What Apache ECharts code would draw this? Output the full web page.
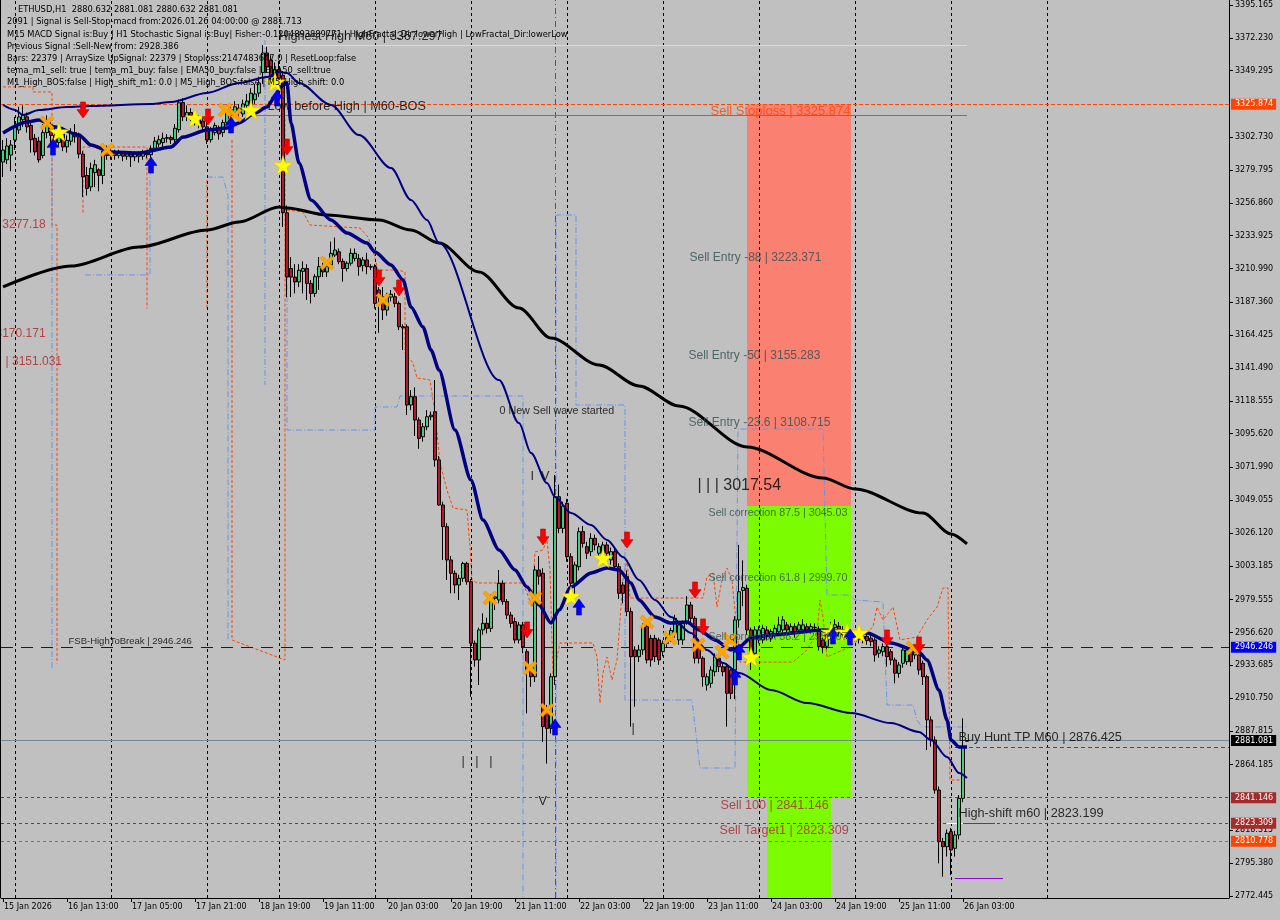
<!DOCTYPE html>
<html><head><meta charset="utf-8">
<script src="https://cdn.jsdelivr.net/npm/echarts@6/dist/echarts.min.js"></script>
<style>html,body{margin:0;padding:0;background:#c0c0c0}#c{width:1280px;height:920px}</style>
</head><body><div id="c"></div>
<script>
// ---------------- DATA ----------------
const xTickLabels = ['15 Jan 2026','16 Jan 13:00','17 Jan 05:00','17 Jan 21:00','18 Jan 19:00','19 Jan 11:00','20 Jan 03:00','20 Jan 19:00','21 Jan 11:00','22 Jan 03:00','22 Jan 19:00','23 Jan 11:00','24 Jan 03:00','24 Jan 19:00','25 Jan 11:00','26 Jan 03:00'];
const dayStartIdx = [3,27,51,69,93,117,141,165,189,213,237,261];
const yTicks = [3395.165,3372.230,3349.295,3302.730,3279.795,3256.860,3233.925,3210.990,3187.360,3164.425,3141.490,3118.555,3095.620,3071.990,3049.055,3026.120,3003.185,2979.555,2956.620,2933.685,2910.750,2887.815,2864.185,2818.315,2795.380,2772.445];
// [open, close, low, high]
const ohlc = [
[3285.4,3293.8,3274.9,3300.8],[3287,3296.6,3284,3302],[3290.3,3297.3,3279,3300.8],[3300.8,3309.9,3293.8,3316.9],[3307.8,3316.9,3305,3324],
[3315,3318.5,3310,3325],[3317,3310,3306,3320],[3311,3301,3292,3314],[3302,3292.5,3290,3305],[3300,3287,3285,3303],
[3290,3306,3288,3312],[3306,3311,3302,3318],[3311,3304,3298,3315],[3304,3299,3294,3310],[3299,3306,3296,3310],
[3305,3296,3293,3310],[3296,3300.5,3292,3304],[3300,3306,3297,3309],[3306,3303,3299,3312],[3303,3291,3288,3306],
[3291,3275,3261,3293],[3276,3267,3262,3282],[3268,3281,3265,3285],[3278,3283.5,3268,3287],[3280,3276,3265,3281],
[3276,3293,3270,3298],[3293,3290,3287,3297],[3290,3292,3287,3295],[3292,3290,3287,3294],[3290,3291.5,3288,3294],
[3291.5,3289.5,3286,3293],[3289.5,3291,3287,3293],[3291,3289,3282,3293],[3289,3291,3286,3293],[3291,3289.5,3285,3293],
[3289.5,3291.5,3287,3294],[3291.5,3290.5,3288,3293],[3290.5,3295,3288,3297],[3295,3300,3293,3303],[3298,3301,3296,3304],
[3299,3302,3296,3306],[3302,3302.5,3299,3305],[3302.5,3301,3298,3304],[3301,3309,3299,3312],[3308,3326.8,3306,3329],
[3327,3317,3314,3330],[3317,3320,3314,3325],[3320,3318,3314,3323],[3318,3315,3311,3321],[3315,3312,3309,3318],
[3314,3310,3306,3316],[3310,3300.8,3298,3314],[3301,3308,3299,3310],[3306,3311,3304,3313],[3309,3305,3301,3311],
[3306,3313,3303,3315],[3313,3320,3311,3322],[3318,3322,3316,3325],[3320,3324,3317,3328],[3323,3320,3317,3326],
[3319,3326,3317,3329],[3325,3328,3322,3333],[3324,3333.5,3322,3337],[3329,3333,3326,3340],[3333.6,3340.6,3331,3345],
[3348,3361.6,3340,3367.2],[3361.6,3351.8,3348,3366],[3356.7,3344.9,3342,3360],[3343,3350,3340,3355],[3350,3344,3340,3356],
[3346,3250,3240,3349],[3250,3205,3191,3255],[3211,3205,3191,3219],[3205,3201.6,3193.6,3214],[3201.6,3209.8,3198,3214],
[3209,3211,3193.6,3216],[3211,3200.6,3189,3214],[3200.6,3193.6,3186.6,3203],[3193.6,3205.3,3191,3207],[3205.3,3212.3,3196,3219],
[3212,3208.6,3205,3215],[3208.6,3212.3,3205,3215],[3213.5,3221.6,3212,3229.8],[3220.4,3223.9,3219,3232.6],[3222.7,3215.8,3214,3225],
[3216,3211,3201.8,3218],[3211,3214.7,3209,3216],[3214.7,3221.6,3213,3225],[3218,3221.6,3216,3225],[3217.9,3212.3,3206,3221],
[3213,3217,3209,3219],[3217,3212.3,3207,3222],[3212.3,3212,3210,3214],[3212.3,3186.6,3183,3214],[3196,3191,3166,3198],
[3191.3,3182,3175,3198],[3182,3191.3,3178,3194],[3191,3193,3188,3196],[3191.3,3186.6,3184,3194],[3186.6,3170.3,3168,3188],
[3170.3,3169.5,3154,3172],[3170.3,3115.6,3108.6,3172],[3115.6,3121.4,3112,3126],[3121.4,3105.1,3094,3128],[3105.1,3092.3,3085,3107],
[3093.4,3100.4,3090,3103],[3100.4,3107.4,3098,3112],[3107.4,3108.5,3105,3111],[3110.9,3077.2,3072.5,3133.1],[3077.2,3045.7,3045,3080],
[3045.7,3030.6,3007.3,3048],[3030.6,3007.3,2993.3,3033],[3007.3,2998,2984,3010],[2998,2989.8,2984,3000],[2989.8,2994.5,2979.3,2997],
[2994.5,3004.9,2992,3006],[3004.9,2992.1,2990,3006],[2992.1,2949.1,2911.7,2994],[2949.1,2937.4,2932.7,2951],[2937.4,2958.4,2919.9,2960],
[2958.4,2963,2955,2970],[2963,2959.5,2956,2967],[2959.5,2980.5,2957,2983],[2980.5,2981.5,2972.3,2985],[2979.3,2991,2977,3000.3],
[2991,2978.2,2976,2993],[2978.2,2968.8,2966,2980],[2968.8,2963,2960,2971],[2964.2,2951.4,2949,2967],[2951.4,2961.9,2949,2964],
[2961.9,2946.7,2942.1,2964],[2943.2,2930.4,2900.1,2945],[2931,2925.7,2918.7,2933],[2925.7,3000.3,2922,3003],[3000.3,2996,2990,3010],
[2998,2890.8,2880,3001.5],[2903.6,2889.6,2865,2906],[2889.6,2925.7,2886,2928],[2925.7,3051.5,2920,3066.7],[3051.5,3029.4,3026,3060],
[3029.4,3045,3026,3048],[3046.9,3009.6,3006,3050],[3009.6,2991,2988,3012],[2991,3003.8,2978,3006],[3002.6,3027.1,3000,3030],
[3027.1,3018.9,3016,3031],[3016.6,3012,3008,3020],[3013.1,3022.4,3010,3026],[3022.4,3017.8,3014,3025],[3012,3016.6,3008,3019],
[3008.5,3017.8,3005,3020],[3017.8,3012,3008,3020],[3007.3,3013.1,3004,3016],[3013.1,3002.6,3000,3016],[3002.6,2984,2980,3005],
[2989.8,2984,2977,2992],[2995.6,2971.2,2968,3000],[2971.2,2939.7,2890.8,2974],[2944.4,2939.7,2904.7,2947],[2939.7,2944.4,2936,2948],
[2944.4,2960.7,2941,2963],[2960.7,2937.4,2935,2963],[2952.5,2937.4,2932.7,2955],[2952.5,2939.7,2936,2955],[2951.4,2937.4,2934,2953],
[2943.2,2949.1,2940,2951],[2949,2953,2946,2955],[2953,2958,2950,2960],[2956,2966.5,2953,2969],[2951.4,2961.9,2948,2964],
[2951.4,2963,2948,2965],[2964.2,2975.8,2962,2982],[2975.8,2966.5,2963,2978],[2966.5,2938.6,2935,2968],[2950.2,2938.6,2935,2952],
[2938.6,2925.7,2918.7,2940],[2919.9,2925.7,2916,2928],[2921.1,2930.4,2918,2933],[2929.2,2939.7,2926,2942],[2938.6,2932.7,2929,2941],
[2932.7,2929.2,2926,2935],[2932.7,2914.1,2890.8,2935],[2930.4,2914.1,2910,2932],[2930.4,2965.4,2910,2968],[2965.4,2985.1,2960,3017.8],
[2986,2988,2975,3007],[2987.5,2958.4,2955,2990],[2958.4,2940.9,2930.4,2960],[2942.1,2958.4,2940,2961],[2951.4,2958.4,2949,2961],
[2951.4,2959.5,2949,2962],[2958.4,2953.7,2951,2961],[2952.6,2957.2,2950,2959],[2954.9,2959.5,2953,2962],[2957.2,2961.9,2955,2967.6],
[2958.4,2965.4,2956,2968],[2961.9,2958.4,2956,2964],[2957.2,2960.7,2955,2963],[2960.7,2956,2953,2963],[2958.4,2961.9,2956,2964],
[2958.4,2961.9,2956,2966],[2960.7,2958.4,2956,2963],[2958.4,2960.7,2956,2963],[2960,2960.3,2957,2963],[2958.4,2946.7,2944,2961],
[2951.4,2946.7,2942.1,2953],[2947,2955,2945,2958],[2955,2960,2952,2964],[2960,2962,2956,2966],[2961,2958,2955,2964],
[2958,2955,2952,2961],[2955,2957,2952,2960],[2957,2953,2950,2959],[2953,2956,2950,2958],[2956,2952,2949,2958],
[2952,2954,2949,2957],[2954,2951,2948,2956],[2952.6,2950.2,2947,2955],[2951.4,2940.9,2936.2,2953],[2942.1,2944.4,2939,2947],
[2943.2,2946.7,2940,2949],[2946.7,2939.7,2932.7,2949],[2943.2,2937.4,2934,2945],[2937.4,2928.1,2921.1,2939],[2928.1,2933.9,2925,2936],
[2935.1,2944.4,2932,2947],[2936.2,2944.4,2934,2947],[2944.4,2936.2,2933,2946],[2940.9,2944.4,2938,2947],[2940.9,2930.4,2927,2943],
[2935.1,2925.7,2919.9,2937],[2925.7,2895.5,2874.5,2927],[2895.5,2881.5,2876.8,2898],[2881.5,2846.5,2844,2884],[2846.5,2810.4,2795.3,2849],
[2810.4,2806.9,2785.9,2813],[2806.9,2816.3,2800,2819],[2817.4,2804.6,2787.1,2820],[2805.8,2815.1,2800,2818],[2815.1,2840.7,2812,2843],
[2840.7,2876.8,2838,2896.6],[2880.632,2881.081,2880.632,2881.081]
];
const ma200Black = [[0,3198.1],[17,3212.7],[34,3226.0],[51,3237.9],[59,3243.5],[69,3254.0],[71,3253.3],[81,3248.4],[94,3244.9],[102,3237.9],[109,3228.8],[119,3208.6],[129,3183.4],[137,3162.4],[149,3143.6],[159,3128.9],[169,3114.9],[186,3086.3],[205,3064.6],[213,3056.9],[230,3040.1],[237,3025.5],[241,3018.5]];
const maFastNavy = [[0,3305.7],[6,3313.4],[9,3314.8],[13,3309.9],[19,3304.3],[22,3297.3],[27,3292.4],[34,3291.7],[42,3295.9],[45,3302.9],[51,3307.8],[56,3309.2],[59,3312.7],[63,3319.7],[66,3323.9],[68,3330.9],[70,3339.3],[71,3340.7],[72,3312.7],[74,3284.7],[77,3258.9],[82,3244.9],[86,3235.8],[91,3228.8],[93,3222.5],[97,3213.5],[100,3203.0],[102,3184.1],[105,3170.1],[107,3154.0],[109,3140.1],[113,3098.1],[117,3063.2],[120,3035.2],[124,3014.3],[128,3000.3],[131,2988.4],[134,2975.8],[137,2963.2],[139,2972.3],[142,2988.4],[147,2998.2],[151,3001.7],[154,3000.3],[157,2991.2],[159,2979.3],[163,2967.4],[167,2963.2],[171,2963.9],[174,2958.4],[178,2951.4],[182,2944.4],[184,2946.5],[187,2952.8],[192,2954.9],[205,2958.4],[216,2956.3],[222,2949.3],[229,2943.0],[231,2937.4],[234,2916.4],[236,2895.5],[237,2881.5],[239,2876.6],[241,2876.6]];
const maSlowNavy = [[0,3325.3],[3,3321.8],[5,3318.3],[9,3321.8],[16,3323.9],[22,3324.6],[37,3326.0],[42,3327.4],[51,3333.7],[59,3340.7],[66,3344.8],[69,3348.3],[71,3347.6],[74,3340.7],[82,3325.3],[89,3304.3],[97,3281.2],[102,3258.9],[106,3244.9],[109,3228.8],[124,3133.1],[129,3103.0],[132,3082.1],[136,3061.1],[138,3051.3],[142,3040.1],[147,3031.7],[151,3021.3],[155,3009.4],[159,2993.3],[163,2979.3],[167,2967.4],[172,2956.3],[176,2944.4],[180,2935.3],[184,2928.3],[192,2916.4],[201,2907.3],[212,2900.3],[222,2893.3],[229,2887.1],[232,2881.5],[236,2869.6],[239,2858.4],[241,2854.9]];
const orangeBand = [[71,3251.9],[75,3250.5],[76.75,3241.4],[89.25,3239.3],[91.25,3233.0],[92.5,3223.9],[93.75,3209.9],[98.75,3209.9],[100.5,3208.6],[100.5,3151.9],[102.5,3144.9],[103.5,3134.5],[106.75,3133.1],[108,3110.0],[109.25,3075.1],[111,3056.2],[112.5,3043.6],[116,3042.2],[116.75,3016.3],[117.25,2993.3],[118.5,2991.2],[130,2991.2],[131,2984.2],[132.25,2974.4],[133,3012.9],[135,3014.3],[136,3021.3],[136.75,3000.3],[137.5,2925.5],[139.25,2949.3],[147.5,2949.3],[148.5,2939.5],[149.25,2907.3],[150,2928.3],[151,2939.5],[152.25,2923.4],[153.5,2937.4],[155,2993.3],[156,3007.3],[156.75,2980.7],[175,2980.7],[176,2995.4],[177.5,2998.2],[178.5,2974.4],[179.75,2993.3],[181,3001.7],[182.25,2993.3],[184.25,2935.9],[197.5,2935.9],[201,2944.4],[203.5,2956.3],[204.25,2979.3],[205,2967.4],[206,2939.5],[211.75,2946.5],[217.5,2960.5],[218.5,2974.4],[220,2965.4],[222.5,2974.4],[224.25,2951.4],[228.5,2953.5],[231,2965.4],[233.5,2974.4],[235,2987.7],[236.25,2987.7],[236.75,2853.5],[239.75,2853.5]];
const orangeLeftA = [[0,3337.9],[7.5,3337.9],[7.5,3334.4],[12.25,3334.4],[12.25,3241.4],[13.5,3241.4],[13.5,2935.0]];
const orangeLeftB = [[20,3250.0],[20,3295.9],[36,3295.9],[36,3183.0]];
const orangeLeftC = [[51,3272.9],[51,3182.0]];
const orangeLeftD = [[57.25,3300.8],[57.25,2951.4],[70.5,2937.4],[70.5,3317.0]];
const blueBandA = [[71,3237.9],[71,3098.1],[93,3098.1],[93,3114.2],[98.5,3114.2],[99.25,3121.9],[130,3121.9],[130,2771.1]];
const blueBandB = [[138.25,2771.1],[138.25,3248.4],[143.25,3248.4],[143.25,3115.6],[155.5,3115.6],[155.5,2909.4],[172.25,2909.4],[174.25,2861.9],[183,2861.9],[183.75,3098.8],[205,3098.8],[206,2982.8],[211.75,2982.8],[213,2979.3],[220,2977.9],[221,2905.9],[227.5,2905.9],[228.5,2895.4],[229.75,2890.6],[241,2890.6]];
const blueLeftA = [[12.25,3297.3],[12.25,2930.4]];
const blueLeftB = [[20.5,3206.5],[36.75,3206.5],[36.75,3286.8]];
const blueLeftC = [[51,3274.9],[55,3274.9],[56.25,3262.0],[56.25,2951.4]];
const blueLeftD = [[65.5,3370.7],[65.5,3129.6]];
const stars = [[14,3306.4],[48,3316.2],[62,3321.8],[68,3341.3],[70,3283.3],[142,2982.1],[150,3008.7],[187,2939.5],[207,2956.9],[211,2956.9],[214,2956.3]];
const upArrows = [[12.5,3295.9],[37,3283.3],[57,3311.3],[68.5,3330.2],[144,2974.4],[138,2890.5],[183,2925.5],[184,2943.0],[207.5,2954.2],[211.75,2953.5]];
const downArrows = [[20,3321.8],[51.25,3316.9],[71,3295.9],[94,3204.4],[99,3197.4],[135,3023.3],[131,2958.4],[156,3021.2],[173,2986.3],[175,2960.5],[221,2952.8],[229,2947.9]];
const crosses = [[11,3312.7],[26,3293.8],[55.5,3321.8],[58,3318.3],[81,3214.9],[95,3189.0],[121.75,2980.7],[133,2980.7],[131.75,2931.8],[136,2902.4],[161,2963.9],[166.75,2952.8],[173.75,2947.9],[179.75,2943.0],[181.75,2951.4],[227.5,2945.8]];
// zones: [fromIdx, toIdx, topPrice, bottomPrice]
const entryZone = [186, 212, 3325.874, 3045.03];
const correctionZone = [186, 212, 3045.03, 2841.146];
const targetZone = [191, 207, 2841.146, 2771.05];
// text annotations: [text, idx, price]
const stoplossText = [['Sell Stoploss | 3325.874', 176.75, 3321.1]];
const entryTexts = [['Sell Entry -88 | 3223.371',171.5,3218.4],['Sell Entry -50 | 3155.283',171.25,3149.9],['Sell Entry -23.6 | 3108.715',171.25,3103.0]];
const correctionTexts = [['Sell correction 87.5 | 3045.03',176.25,3040.1],['Sell correction 61.8 | 2999.70',176.25,2994.7],['Sell correction 38.2 | 2958.07',176.25,2953.5]];
const targetTexts = [['Sell 100 | 2841.146',179.25,2836.0],['Sell Target1 | 2823.309',179,2817.9]];
const bigTexts = [['Buy Hunt TP M60 | 2876.425',238.75,2882.9],['High-shift m60 | 2823.199',238.75,2829.8],['Highest High M60 | 3367.297',68.75,3373.5],['Low before High | M60-BOS',66,3323.9],['I  V',131.75,3065.3],['V',133.75,2838.8],['|   |   |',114.5,2866.8],['|',157,2889.2]];
const waveText = [['| | | 3017.54',173.5,3059.0]];
const smallTexts = [['0 New Sell wave started',124,3111.4]];
const tinyTexts = [['FSB-HighToBreak | 2946.246',16.25,2950.7]];
const leftTexts = [['3277.18',-0.3,3241.4],['3170.171',-2,3165.2],['| 3151.031',0.5,3145.7]];
const headerLines = ['ETHUSD,H1  2880.632 2881.081 2880.632 2881.081','2091 | Signal is Sell-Stop-macd from:2026.01.26 04:00:00 @ 2881.713','M15 MACD Signal is:Buy | H1 Stochastic Signal is:Buy| Fisher:-0.1204893889771 | HighFractal_Dir:lowerHigh | LowFractal_Dir:lowerLow','Previous Signal :Sell-New from: 2928.386','Bars: 22379 | ArraySize UpSignal: 22379 | Stoploss:2147483647.0 | ResetLoop:false','tema_m1_sell: true | tema_m1_buy: false | EMA50_buy:false | EMA50_sell:true','M1_High_BOS:false | High_shift_m1: 0.0 | M5_High_BOS:false | M5_High_shift: 0.0'];
// price levels
const stoplossLevel = 3325.874, breakLevel = 2946.246, lastPrice = 2881.081, sell100 = 2841.146, target1 = 2823.309, lowLevel = 2810.778;
const highestHigh = 3367.297, stopTrend = 3317.9, buyHuntTP = 2876.425, highShift = 2823.199, fractalLow = 2785.0;
const magentaIdx = 138;

// ---------------- CHART ----------------
const FONT = '"Liberation Sans", Arial, Helvetica, sans-serif';
const AXFONT = '"DejaVu Sans", Verdana, sans-serif';
const NCAT = 307;
const categories = Array.from({length: NCAT}, (_, i) => String(i));
const YMIN = 2771.05, YMAX = 3398.66;
const labelAt = i => i % 16 === 0 && (i / 16) < xTickLabels.length;

const chart = echarts.init(document.getElementById('c'), null, {renderer: 'canvas', width: 1280, height: 920});

function textSeries(arr, color, size, z) {
  return {type: 'scatter', xAxisIndex: 1, symbolSize: 1, itemStyle: {color: 'rgba(0,0,0,0)'}, clip: false, silent: true, z: z || 30,
    data: arr.map(a => ({name: a[0], value: [a[1], a[2]]})),
    label: {show: true, position: 'right', distance: 0, formatter: p => p.name, color: color, fontSize: size, fontFamily: FONT}};
}
function markerSeries(arr, symbol, w, h, color, border, z) {
  return {type: 'scatter', xAxisIndex: 1, data: arr, symbol: symbol, symbolSize: [w, h], clip: false, silent: true, z: z,
    itemStyle: {color: color, borderColor: border, borderWidth: 0.6, opacity: 1}};
}
function lineSeries(data, color, width, type, z, smooth) {
  return {type: 'line', xAxisIndex: 1, data: data, showSymbol: false, symbol: 'none', smooth: smooth || false, smoothMonotone: 'x', silent: true, z: z,
    lineStyle: {color: color, width: width, type: type || 'solid'}};
}
function hLevel(v, color, type, bg) {
  return {yAxis: v, lineStyle: {color: color, type: type, width: 1},
    label: bg ? {show: true, position: 'end', formatter: v.toFixed(3), backgroundColor: bg, color: '#ffffff', padding: [2, 3, 1, 4], fontSize: 8, fontFamily: AXFONT, distance: 2} : {show: false}};
}
function seg(a, b, v, color, type, width) {
  return [{coord: [a, v], lineStyle: {color: color, type: type, width: width || 1}, label: {show: false}}, {coord: [b, v]}];
}
const zoneItem = (z, color) => [{coord: [z[0], z[2]], itemStyle: {color: color, opacity: 1}}, {coord: [z[1], z[3]]}];

const starPath = 'path://M50,0 L61,35 L98,35 L68,57 L79,91 L50,70 L21,91 L32,57 L2,35 L39,35 Z';
const downPath = 'path://M32,0 L68,0 L68,48 L95,48 L50,100 L5,48 L32,48 Z';
const upPath = 'path://M50,0 L95,52 L68,52 L68,100 L32,100 L32,52 L5,52 Z';
const crossPath = 'path://M0,18 L18,0 L50,32 L82,0 L100,18 L68,50 L100,82 L82,100 L50,68 L18,100 L0,82 L32,50 Z';
const DASHDOT = [6, 2, 1, 2];

const option = {
  backgroundColor: '#c0c0c0',
  animation: false,
  grid: {left: 1, top: 0, width: 1228, height: 898, containLabel: false},
  xAxis: [
    {type: 'category', data: categories, boundaryGap: true,
     axisLine: {show: true, onZero: false, lineStyle: {color: '#000', width: 1}},
     axisTick: {show: true, alignWithLabel: true, interval: labelAt, length: 4, lineStyle: {color: '#000'}},
     axisLabel: {interval: labelAt, formatter: (v, i) => xTickLabels[i / 16] || '', align: 'left', margin: 5, color: '#000', fontSize: 8, fontFamily: AXFONT, padding: [0, 0, 0, 1]},
     splitLine: {show: false}},
    {type: 'value', min: -0.5, max: NCAT - 0.5, show: false, axisLine: {onZero: false}, splitLine: {show: false}}
  ],
  yAxis: {type: 'value', position: 'right', min: YMIN, max: YMAX, scale: true,
    axisLine: {show: true, onZero: false, lineStyle: {color: '#000', width: 1}},
    axisTick: {show: true, length: 4, customValues: yTicks, lineStyle: {color: '#000'}},
    axisLabel: {customValues: yTicks, formatter: v => v.toFixed(3), color: '#000', fontSize: 8, fontFamily: AXFONT, margin: 6},
    splitLine: {show: false}},
  graphic: headerLines.map((t, k) => ({type: 'text', x: k === 0 ? 18 : 7, y: 10 + k * 12.2, z: 100, silent: true,
    style: {text: t, fill: '#000', font: '8.3px ' + AXFONT, verticalAlign: 'middle'}})).concat([
    {type: 'line', shape: {x1: 0.5, y1: 0, x2: 0.5, y2: 898}, style: {stroke: '#000', lineWidth: 1}, silent: true, z: 100}]),
  series: [
    {type: 'line', xAxisIndex: 1, data: [], silent: true, z: 1,
     markArea: {silent: true, data: [zoneItem(entryZone, '#fa8072'), zoneItem(correctionZone, '#7cfc00'), zoneItem(targetZone, '#7cfc00')]}},
    {type: 'line', xAxisIndex: 1, data: [], silent: true, z: 2,
     markLine: {silent: true, symbol: ['none', 'none'], animation: false,
       data: dayStartIdx.map(d => ({xAxis: d, lineStyle: {color: '#000', type: [3, 3], width: 1}, label: {show: false}}))
         .concat([{xAxis: magentaIdx, lineStyle: {color: '#c71585', type: [6, 3, 1, 3], width: 1}, label: {show: false}}])}},
    lineSeries(orangeBand, '#ff4500', 1, [3, 2], 3),
    lineSeries(orangeLeftA, '#ff4500', 1, [3, 2], 3),
    lineSeries(orangeLeftB, '#ff4500', 1, [3, 2], 3),
    lineSeries(orangeLeftC, '#ff4500', 1, [3, 2], 3),
    lineSeries(orangeLeftD, '#ff4500', 1, [3, 2], 3),
    lineSeries(blueBandA, '#6495ed', 1, DASHDOT, 3),
    lineSeries(blueBandB, '#6495ed', 1, DASHDOT, 3),
    lineSeries(blueLeftA, '#6495ed', 1, DASHDOT, 3),
    lineSeries(blueLeftB, '#6495ed', 1, DASHDOT, 3),
    lineSeries(blueLeftC, '#6495ed', 1, DASHDOT, 3),
    lineSeries(blueLeftD, '#6495ed', 1, DASHDOT, 3),
    {type: 'line', xAxisIndex: 1, data: [], silent: true, z: 4,
     markLine: {silent: true, symbol: ['none', 'none'], animation: false,
       data: [
         hLevel(stoplossLevel, '#ff4500', [4, 2], '#ff4500'),
         hLevel(breakLevel, '#0000ff', [12, 8], '#0000ff'),
         hLevel(lastPrice, '#778899', 'solid', '#000000'),
         hLevel(sell100, '#a52a2a', [3, 3], '#a52a2a'),
         hLevel(target1, '#a52a2a', [3, 3], '#a52a2a'),
         hLevel(lowLevel, '#ff4500', [3, 3], '#ff4500'),
         seg(65, 241, highestHigh, '#c8f08c', 'solid', 1),
         seg(62, 241, stopTrend, '#ff4500', 'solid', 1),
         seg(238, NCAT - 0.5, buyHuntTP, '#ff0000', [4, 3], 1),
         seg(236, 240, highShift, '#ffffff', 'solid', 1),
         seg(240, 248, highShift, '#b22222', 'solid', 1),
         seg(238, 250, fractalLow, '#9400d3', 'solid', 1)
       ]}},
    {type: 'candlestick', xAxisIndex: 0, data: ohlc, barWidth: 3, z: 5, silent: true,
     itemStyle: {color: '#3cd17a', color0: '#b8162c', borderColor: '#000', borderColor0: '#000', borderWidth: 1}},
    lineSeries(ma200Black, '#000000', 3, 'solid', 6, 0.3),
    lineSeries(maSlowNavy, '#000080', 2, 'solid', 6, 0.3),
    lineSeries(maFastNavy, '#000080', 3.5, 'solid', 6, 0.25),
    markerSeries(crosses, crossPath, 14, 14, '#ffa500', '#d98c00', 8),
    markerSeries(stars, starPath, 20, 19, '#ffff00', '#e0c000', 9),
    markerSeries(upArrows, upPath, 12, 16, '#0000ff', '#00008b', 9),
    markerSeries(downArrows, downPath, 12, 16, '#ff0000', '#b00000', 9),
    textSeries(stoplossText, '#ff4500', 13),
    textSeries(entryTexts, '#2f4f4f', 12),
    textSeries(correctionTexts, '#2f4f4f', 10.7),
    textSeries(targetTexts, '#a52a2a', 12.6),
    textSeries(bigTexts, '#000000', 12.7),
    textSeries(waveText, '#000000', 16),
    textSeries(smallTexts, '#000000', 10.7),
    textSeries(tinyTexts, '#000000', 9.5),
    textSeries(leftTexts, '#b22222', 12)
  ]
};
chart.setOption(option);
</script></body></html>
